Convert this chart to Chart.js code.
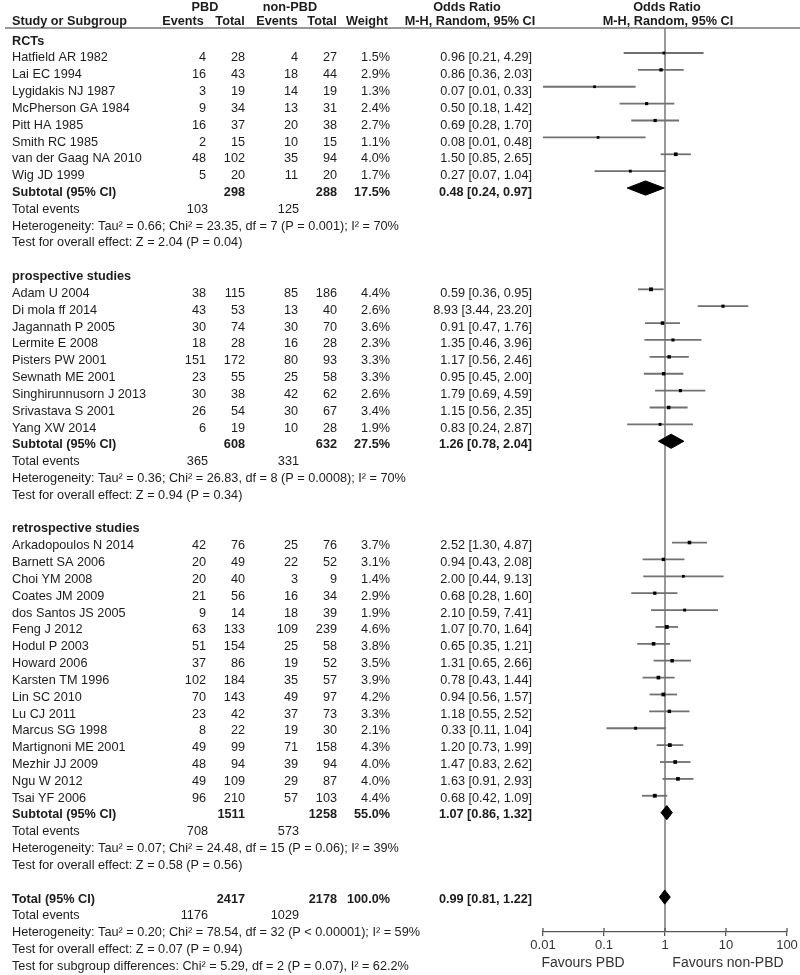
<!DOCTYPE html>
<html>
<head>
<meta charset="utf-8">
<script src="https://cdn.jsdelivr.net/npm/chart.js@4.4.1/dist/chart.umd.min.js"></script>
<style>
  html, body { margin: 0; padding: 0; background: #fff; }
  #wrap { width: 800px; height: 975px; position: relative; }
</style>
</head>
<body>
<div id="wrap"><canvas id="forest"></canvas></div>
<script>
"use strict";

/* =========================================================================
  Data
=========================================================================== */
// [study, PBD events, PBD total, non-PBD events, non-PBD total, weight %, OR, lower, upper]
const RCT_STUDIES = [
  ["Hatfield AR 1982", 4, 28, 4, 27, 1.5, 0.96, 0.21, 4.29],
  ["Lai EC 1994", 16, 43, 18, 44, 2.9, 0.86, 0.36, 2.03],
  ["Lygidakis NJ 1987", 3, 19, 14, 19, 1.3, 0.07, 0.01, 0.33],
  ["McPherson GA 1984", 9, 34, 13, 31, 2.4, 0.50, 0.18, 1.42],
  ["Pitt HA 1985", 16, 37, 20, 38, 2.7, 0.69, 0.28, 1.70],
  ["Smith RC 1985", 2, 15, 10, 15, 1.1, 0.08, 0.01, 0.48],
  ["van der Gaag NA 2010", 48, 102, 35, 94, 4.0, 1.50, 0.85, 2.65],
  ["Wig JD 1999", 5, 20, 11, 20, 1.7, 0.27, 0.07, 1.04],
];
const PROSPECTIVE_STUDIES = [
  ["Adam U 2004", 38, 115, 85, 186, 4.4, 0.59, 0.36, 0.95],
  ["Di mola ff 2014", 43, 53, 13, 40, 2.6, 8.93, 3.44, 23.20],
  ["Jagannath P 2005", 30, 74, 30, 70, 3.6, 0.91, 0.47, 1.76],
  ["Lermite E 2008", 18, 28, 16, 28, 2.3, 1.35, 0.46, 3.96],
  ["Pisters PW 2001", 151, 172, 80, 93, 3.3, 1.17, 0.56, 2.46],
  ["Sewnath ME 2001", 23, 55, 25, 58, 3.3, 0.95, 0.45, 2.00],
  ["Singhirunnusorn J 2013", 30, 38, 42, 62, 2.6, 1.79, 0.69, 4.59],
  ["Srivastava S 2001", 26, 54, 30, 67, 3.4, 1.15, 0.56, 2.35],
  ["Yang XW 2014", 6, 19, 10, 28, 1.9, 0.83, 0.24, 2.87],
];
const RETROSPECTIVE_STUDIES = [
  ["Arkadopoulos N 2014", 42, 76, 25, 76, 3.7, 2.52, 1.30, 4.87],
  ["Barnett SA 2006", 20, 49, 22, 52, 3.1, 0.94, 0.43, 2.08],
  ["Choi YM 2008", 20, 40, 3, 9, 1.4, 2.00, 0.44, 9.13],
  ["Coates JM 2009", 21, 56, 16, 34, 2.9, 0.68, 0.28, 1.60],
  ["dos Santos JS 2005", 9, 14, 18, 39, 1.9, 2.10, 0.59, 7.41],
  ["Feng J 2012", 63, 133, 109, 239, 4.6, 1.07, 0.70, 1.64],
  ["Hodul P 2003", 51, 154, 25, 58, 3.8, 0.65, 0.35, 1.21],
  ["Howard 2006", 37, 86, 19, 52, 3.5, 1.31, 0.65, 2.66],
  ["Karsten TM 1996", 102, 184, 35, 57, 3.9, 0.78, 0.43, 1.44],
  ["Lin SC 2010", 70, 143, 49, 97, 4.2, 0.94, 0.56, 1.57],
  ["Lu CJ 2011", 23, 42, 37, 73, 3.3, 1.18, 0.55, 2.52],
  ["Marcus SG 1998", 8, 22, 19, 30, 2.1, 0.33, 0.11, 1.04],
  ["Martignoni ME 2001", 49, 99, 71, 158, 4.3, 1.20, 0.73, 1.99],
  ["Mezhir JJ 2009", 48, 94, 39, 94, 4.0, 1.47, 0.83, 2.62],
  ["Ngu W 2012", 49, 109, 29, 87, 4.0, 1.63, 0.91, 2.93],
  ["Tsai YF 2006", 96, 210, 57, 103, 4.4, 0.68, 0.42, 1.09],
];

const GROUP_TITLES = ["RCTs", "prospective studies", "retrospective studies"];
const GROUP_STUDIES = [RCT_STUDIES, PROSPECTIVE_STUDIES, RETROSPECTIVE_STUDIES];

// [label, PBD total, non-PBD total, weight %, OR, lower, upper]
const SUBTOTALS = [
  ["Subtotal (95% CI)", 298, 288, 17.5, 0.48, 0.24, 0.97],
  ["Subtotal (95% CI)", 608, 632, 27.5, 1.26, 0.78, 2.04],
  ["Subtotal (95% CI)", 1511, 1258, 55.0, 1.07, 0.86, 1.32],
];
const GROUP_EVENTS = [[103, 125], [365, 331], [708, 573]];
const GROUP_HETEROGENEITY = [
  "Heterogeneity: Tau² = 0.66; Chi² = 23.35, df = 7 (P = 0.001); I² = 70%",
  "Heterogeneity: Tau² = 0.36; Chi² = 26.83, df = 8 (P = 0.0008); I² = 70%",
  "Heterogeneity: Tau² = 0.07; Chi² = 24.48, df = 15 (P = 0.06); I² = 39%",
];
const GROUP_OVERALL = [
  "Test for overall effect: Z = 2.04 (P = 0.04)",
  "Test for overall effect: Z = 0.94 (P = 0.34)",
  "Test for overall effect: Z = 0.58 (P = 0.56)",
];

const TOTAL = ["Total (95% CI)", 2417, 2178, 100.0, 0.99, 0.81, 1.22];
const TOTAL_EVENTS = [1176, 1029];
const TOTAL_NOTES = [
  "Heterogeneity: Tau² = 0.20; Chi² = 78.54, df = 32 (P < 0.00001); I² = 59%",
  "Test for overall effect: Z = 0.07 (P = 0.94)",
  "Test for subgroup differences: Chi² = 5.29, df = 2 (P = 0.07), I² = 62.2%",
];

const X_TICKS = [0.01, 0.1, 1, 10, 100];
const FAVOURS = ["Favours PBD", "Favours non-PBD"];

/* =========================================================================
  Layout
=========================================================================== */
const FONT = "'Liberation Sans', Arial, sans-serif";
const TABLE_SIZE = 12.7;
const TEXT_COLOR = "#1c1c1c";
const LINE_GREY = "#777";
const Y_MIN = -0.48;
const Y_MAX = 53.07;
const DIAMOND_HALF = 0.42;
const COL = { study: 12, e1: 206, n1: 245, e2: 298, n2: 337, w: 390, or: 532 };

// the table text sits a few px under the plot rows, a little less towards the bottom
const textShift = (r) => 5 - 0.058 * r;

const fmtOR = (or, lo, hi) => `${or.toFixed(2)} [${lo.toFixed(2)}, ${hi.toFixed(2)}]`;
const fmtW = (w) => `${w.toFixed(1)}%`;

// one entry per table row, row index = y value on the chart
const rows = [];
let rowIdx = 0;
GROUP_TITLES.forEach((title, g) => {
  rows.push({ r: rowIdx++, kind: "title", text: title });
  GROUP_STUDIES[g].forEach((s) => rows.push({ r: rowIdx++, kind: "study", s }));
  rows.push({ r: rowIdx++, kind: "pooled", s: SUBTOTALS[g] });
  rows.push({ r: rowIdx++, kind: "events", ev: GROUP_EVENTS[g] });
  rows.push({ r: rowIdx++, kind: "note", text: GROUP_HETEROGENEITY[g] });
  rows.push({ r: rowIdx++, kind: "note", text: GROUP_OVERALL[g] });
  rowIdx++;
});
rows.push({ r: rowIdx++, kind: "pooled", s: TOTAL });
rows.push({ r: rowIdx++, kind: "events", ev: TOTAL_EVENTS });
TOTAL_NOTES.forEach((t) => rows.push({ r: rowIdx++, kind: "note", text: t }));

/* =========================================================================
  Datasets
=========================================================================== */
const datasets = [];
const studyRows = rows.filter((row) => row.kind === "study");

studyRows.forEach((row) => {
  datasets.push({
    data: [{ x: row.s[7], y: row.r }, { x: row.s[8], y: row.r }],
    showLine: true,
    borderColor: "#707070",
    borderWidth: 1.8,
    pointRadius: 0,
    order: 2,
  });
});

datasets.push({
  data: studyRows.map((row) => ({ x: row.s[6], y: row.r })),
  pointStyle: "rect",
  pointRadius: studyRows.map((row) => 1.6 + 0.25 * row.s[5]),
  backgroundColor: "#000",
  borderWidth: 0,
  order: 0,
});

rows.filter((row) => row.kind === "pooled").forEach((row) => {
  const [, , , , or, lo, hi] = row.s;
  datasets.push({
    data: [
      { x: lo, y: row.r },
      { x: or, y: row.r - DIAMOND_HALF },
      { x: hi, y: row.r },
      { x: or, y: row.r + DIAMOND_HALF },
      { x: lo, y: row.r },
    ],
    showLine: true,
    fill: "shape",
    borderColor: "#000",
    backgroundColor: "#000",
    borderWidth: 1,
    tension: 0,
    pointRadius: 0,
    order: 0,
  });
});

/* =========================================================================
  Table text + reference lines
=========================================================================== */
function put(ctx, text, x, y, align, bold) {
  ctx.font = `${bold ? "bold " : ""}${TABLE_SIZE}px ${FONT}`;
  ctx.textAlign = align;
  ctx.fillText(text, x, y);
}

const forestTable = {
  id: "forestTable",
  beforeDatasetsDraw(chart) {
    const { ctx, chartArea, scales } = chart;
    const x1 = scales.x.getPixelForValue(1);
    ctx.save();
    ctx.strokeStyle = LINE_GREY;
    ctx.lineWidth = 1.5;
    ctx.beginPath();
    ctx.moveTo(x1, chartArea.top);
    ctx.lineTo(x1, chartArea.bottom);
    ctx.stroke();
    ctx.restore();
  },
  afterDraw(chart) {
    const { ctx, chartArea, scales } = chart;
    const yScale = scales.y;
    ctx.save();

    // header rule
    ctx.strokeStyle = LINE_GREY;
    ctx.lineWidth = 1.5;
    ctx.beginPath();
    ctx.moveTo(5, chartArea.top);
    ctx.lineTo(800, chartArea.top);
    ctx.stroke();

    // upper half of the axis ticks
    ctx.strokeStyle = "#555";
    ctx.lineWidth = 1.3;
    X_TICKS.forEach((v) => {
      const px = scales.x.getPixelForValue(v);
      ctx.beginPath();
      ctx.moveTo(px, chartArea.bottom - 4);
      ctx.lineTo(px, chartArea.bottom);
      ctx.stroke();
    });

    ctx.fillStyle = TEXT_COLOR;
    ctx.textBaseline = "middle";

    // headers
    put(ctx, "PBD", 205, 7, "center", true);
    put(ctx, "non-PBD", 290, 7, "center", true);
    put(ctx, "Odds Ratio", 467, 7, "center", true);
    put(ctx, "Odds Ratio", 667, 7, "center", true);
    put(ctx, "Study or Subgroup", COL.study, 21.5, "left", true);
    put(ctx, "Events", 183, 21.5, "center", true);
    put(ctx, "Total", 230, 21.5, "center", true);
    put(ctx, "Events", 277, 21.5, "center", true);
    put(ctx, "Total", 322, 21.5, "center", true);
    put(ctx, "Weight", 367, 21.5, "center", true);
    put(ctx, "M-H, Random, 95% CI", 470, 21.5, "center", true);
    put(ctx, "M-H, Random, 95% CI", 668, 21.5, "center", true);

    rows.forEach((row) => {
      const y = yScale.getPixelForValue(row.r) + textShift(row.r);
      if (row.kind === "title") {
        put(ctx, row.text, COL.study, y, "left", true);
      } else if (row.kind === "study") {
        const [name, e1, n1, e2, n2, w, or, lo, hi] = row.s;
        put(ctx, name, COL.study, y, "left", false);
        put(ctx, String(e1), COL.e1, y, "right", false);
        put(ctx, String(n1), COL.n1, y, "right", false);
        put(ctx, String(e2), COL.e2, y, "right", false);
        put(ctx, String(n2), COL.n2, y, "right", false);
        put(ctx, fmtW(w), COL.w, y, "right", false);
        put(ctx, fmtOR(or, lo, hi), COL.or, y, "right", false);
      } else if (row.kind === "pooled") {
        const [label, n1, n2, w, or, lo, hi] = row.s;
        put(ctx, label, COL.study, y, "left", true);
        put(ctx, String(n1), COL.n1, y, "right", true);
        put(ctx, String(n2), COL.n2, y, "right", true);
        put(ctx, fmtW(w), COL.w, y, "right", true);
        put(ctx, fmtOR(or, lo, hi), COL.or, y, "right", true);
      } else if (row.kind === "events") {
        put(ctx, "Total events", COL.study, y, "left", false);
        put(ctx, String(row.ev[0]), COL.e1 + 2, y, "right", false);
        put(ctx, String(row.ev[1]), COL.e2 + 1, y, "right", false);
      } else {
        put(ctx, row.text, COL.study, y, "left", false);
      }
    });

    // favours labels under the axis
    ctx.font = `14px ${FONT}`;
    ctx.textAlign = "center";
    ctx.fillStyle = "#333";
    ctx.fillText(FAVOURS[0], 583, 963);
    ctx.fillText(FAVOURS[1], 728, 963);
    ctx.restore();
  },
};

/* =========================================================================
  Chart
=========================================================================== */
new Chart(document.getElementById("forest"), {
  type: "scatter",
  data: { datasets },
  options: {
    responsive: true,
    maintainAspectRatio: false,
    animation: false,
    layout: { padding: { left: 543, right: 13, top: 28, bottom: 0 } },
    plugins: {
      legend: { display: false },
      tooltip: { enabled: false },
    },
    scales: {
      x: {
        type: "logarithmic",
        min: 0.01,
        max: 100,
        afterBuildTicks: (s) => {
          s.ticks = X_TICKS.map((v) => ({ value: v }));
        },
        afterFit: (s) => {
          s.height = 43;
        },
        ticks: {
          callback: (v) => String(v),
          font: { family: FONT, size: 13 },
          color: "#333",
          padding: 2,
          maxRotation: 0,
          autoSkip: false,
        },
        grid: {
          drawOnChartArea: false,
          drawTicks: true,
          tickLength: 4,
          color: "#555",
          lineWidth: 1.3,
        },
        border: { display: true, color: "#555", width: 1.3 },
      },
      y: {
        type: "linear",
        reverse: true,
        min: Y_MIN,
        max: Y_MAX,
        display: false,
      },
    },
  },
  plugins: [forestTable],
});
</script>
</body>
</html>
